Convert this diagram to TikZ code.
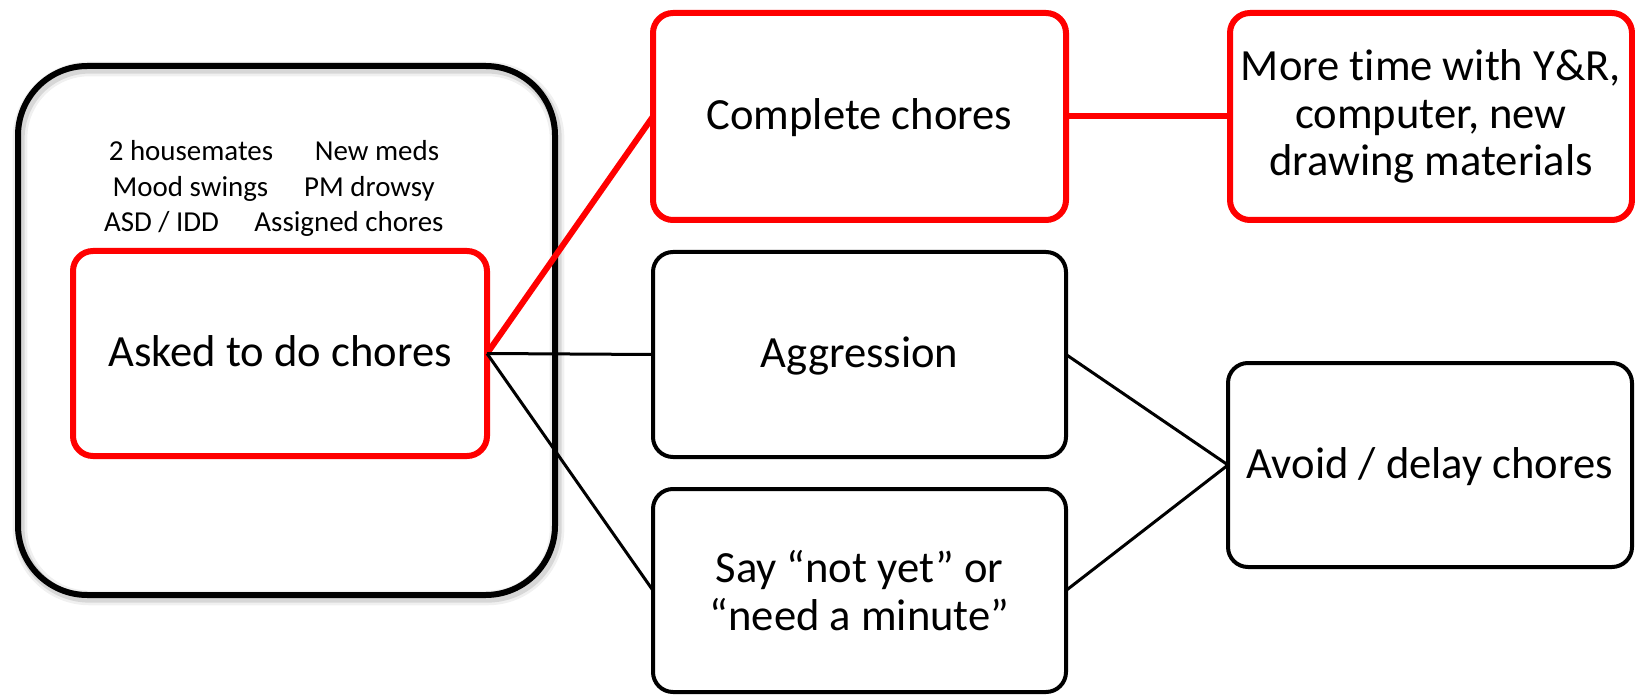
\documentclass[tikz,border=0pt]{standalone}
\usepackage{fontspec}
\setmainfont{Carlito}[Ligatures={NoCommon}]
\begin{document}
\begin{tikzpicture}[x=0.75pt,y=-0.75pt,
  bigfont/.style={font=\fontsize{33.45pt}{35.8pt}\selectfont},
  smallfont/.style={font=\fontsize{21.7pt}{26pt}\selectfont},
  oneline/.style={text height=27pt, text depth=7.5pt},
  redbox/.style={draw=red, line width=4.5pt, rounded corners=15pt, outer sep=0pt, align=center, bigfont, inner sep=0pt},
  blkbox/.style={draw=black, line width=3pt, rounded corners=15pt, outer sep=0pt, align=center, bigfont, inner sep=0pt},
  bigbox/.style={draw=black, line width=4.5pt, rounded corners=52pt, outer sep=0pt, inner sep=0pt,
    preaction={draw=black, opacity=0.06, line width=11pt, transform canvas={xshift=1.5pt,yshift=-2.2pt}},
    preaction={draw=black, opacity=0.10, line width=7pt, transform canvas={xshift=1.5pt,yshift=-2.2pt}}},
  redline/.style={draw=red, line width=4.5pt},
  blkline/.style={draw=black, line width=2.25pt},
  ctxtext/.style={smallfont, anchor=base, inner sep=0pt}
]
\useasboundingbox (0,0) rectangle (1635,695);
\fill[white] (0,0) rectangle (1635,695);

% context box
\node[bigbox, minimum width=402.75pt, minimum height=396.75pt] (ctx) at (286.5,330.5) {};
\node[ctxtext] (t1) at (191,161) {2 housemates};
\node[ctxtext] (t2) at (377,161) {New meds};
\node[ctxtext] (t3) at (190.5,197) {Mood swings};
\node[ctxtext] (t4) at (369.5,197) {PM drowsy};
\node[ctxtext] (t5) at (161.5,232) {ASD / IDD};
\node[ctxtext] (t6) at (349,232) {Assigned chores};

% antecedent
\node[redbox, oneline, minimum width=310.5pt, minimum height=153.75pt] (asked) at (280,353.5) {Asked to do chores};

% behaviours
\node[redbox, oneline, minimum width=309.75pt, minimum height=155.25pt] (complete) at (859.5,116.5) {Complete chores};
\node[blkbox, oneline, minimum width=309.75pt, minimum height=153.75pt] (aggr) at (859.5,354.5) {Aggression};
\node[blkbox, minimum width=309.75pt, minimum height=152.25pt] (say) at (859.5,590.5) {Say “not yet” or\\“need a minute”};

% consequences
\node[redbox, minimum width=301.5pt, minimum height=155.25pt] (more) at (1431,116.5) {More time with Y\&R,\\computer, new\\drawing materials};
\node[blkbox, oneline, minimum width=303pt, minimum height=153pt] (avoid) at (1430,465) {Avoid / delay chores};

% connectors
\draw[redline] (asked.east) -- (complete.west);
\draw[redline] (complete.east) -- (more.west);
\draw[blkline] (asked.east) -- (aggr.west);
\draw[blkline] (asked.east) -- (say.west);
\draw[blkline] (aggr.east) -- (avoid.west);
\draw[blkline] (say.east) -- (avoid.west);
\end{tikzpicture}
\end{document}
